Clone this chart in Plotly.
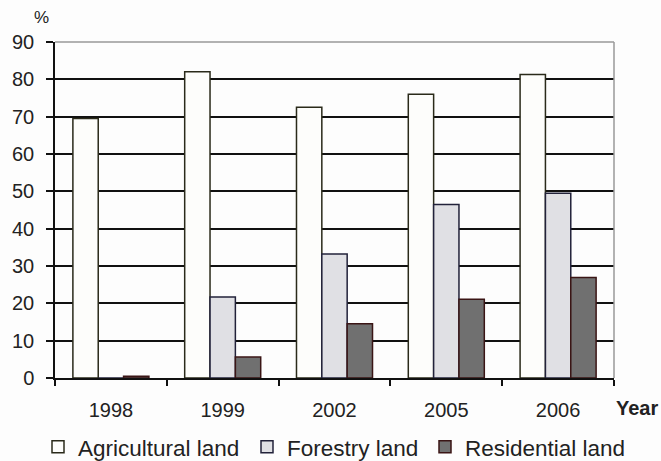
import plotly.graph_objects as go

years = ["1998", "1999", "2002", "2005", "2006"]
agricultural = [69.5, 82.0, 72.5, 76.0, 81.3]
forestry = [0.0, 21.7, 33.2, 46.5, 49.5]
residential = [0.5, 5.6, 14.5, 21.1, 26.9]

series_names = ["Agricultural land", "Forestry land", "Residential land"]
y_ticks = [0, 10, 20, 30, 40, 50, 60, 70, 80, 90]

FONT = "Arial"

fig = go.Figure()
fig.add_trace(go.Bar(x=years, y=agricultural, name=series_names[0], legend="legend",
                     marker=dict(color="#fdfdfb", line=dict(color="#2a2a1a", width=1.5))))
fig.add_trace(go.Bar(x=years, y=forestry, name=series_names[1], legend="legend2",
                     marker=dict(color="#e0e0e4", line=dict(color="#22223a", width=1.5))))
fig.add_trace(go.Bar(x=years, y=residential, name=series_names[2], legend="legend3",
                     marker=dict(color="#707070", line=dict(color="#3a1515", width=1.5))))

# one single-entry legend per series, laid out in a row under the axis
legend_style = dict(orientation="h", xref="container", yref="container",
                    xanchor="left", y=0.03, yanchor="middle",
                    font=dict(size=22.5, color="#222"), itemwidth=30,
                    bgcolor="rgba(0,0,0,0)")

fig.update_layout(
    width=661, height=461,
    margin=dict(l=55, r=47, t=42, b=83, autoexpand=False),
    paper_bgcolor="#fdfdfd", plot_bgcolor="#fdfdfd",
    barmode="group", bargap=0.32, bargroupgap=0,
    font=dict(family=FONT, size=20, color="#222"),
    showlegend=True,
    legend=dict(x=38 / 661, **legend_style),
    legend2=dict(x=247 / 661, **legend_style),
    legend3=dict(x=425 / 661, **legend_style),
)

fig.update_yaxes(range=[0, 90], tickvals=y_ticks, showgrid=True, gridcolor="#111",
                 gridwidth=1.5, showline=True, linecolor="#111", linewidth=1.5,
                 ticks="outside", ticklen=7, tickcolor="#111", tickwidth=1.5,
                 ticklabelstandoff=8, automargin=False,
                 zeroline=False, tickfont=dict(size=20, color="#222"))
fig.update_xaxes(showline=True, linecolor="#111", linewidth=1.5, ticks="outside",
                 tickson="boundaries", ticklen=6, tickcolor="#111", tickwidth=1.5,
                 ticklabelstandoff=13, automargin=False,
                 showgrid=False, tickfont=dict(size=20, color="#222"))

# gray frame along the top and right of the plotting area
fig.add_shape(type="line", xref="paper", yref="paper", x0=0, x1=1, y0=1, y1=1,
              line=dict(color="#999", width=1.5))
fig.add_shape(type="line", xref="paper", yref="paper", x0=1, x1=1, y0=0, y1=1,
              line=dict(color="#999", width=1.5))

fig.add_annotation(text="%", xref="paper", yref="paper", x=-0.025, y=1.073,
                   xanchor="center", yanchor="middle", showarrow=False,
                   font=dict(size=17, color="#222"))
fig.add_annotation(text="<b>Year</b>", xref="paper", yref="paper", x=1.0, y=-0.09,
                   xanchor="left", yanchor="middle", showarrow=False,
                   font=dict(size=20, color="#222"))

fig.write_html("out.html")
